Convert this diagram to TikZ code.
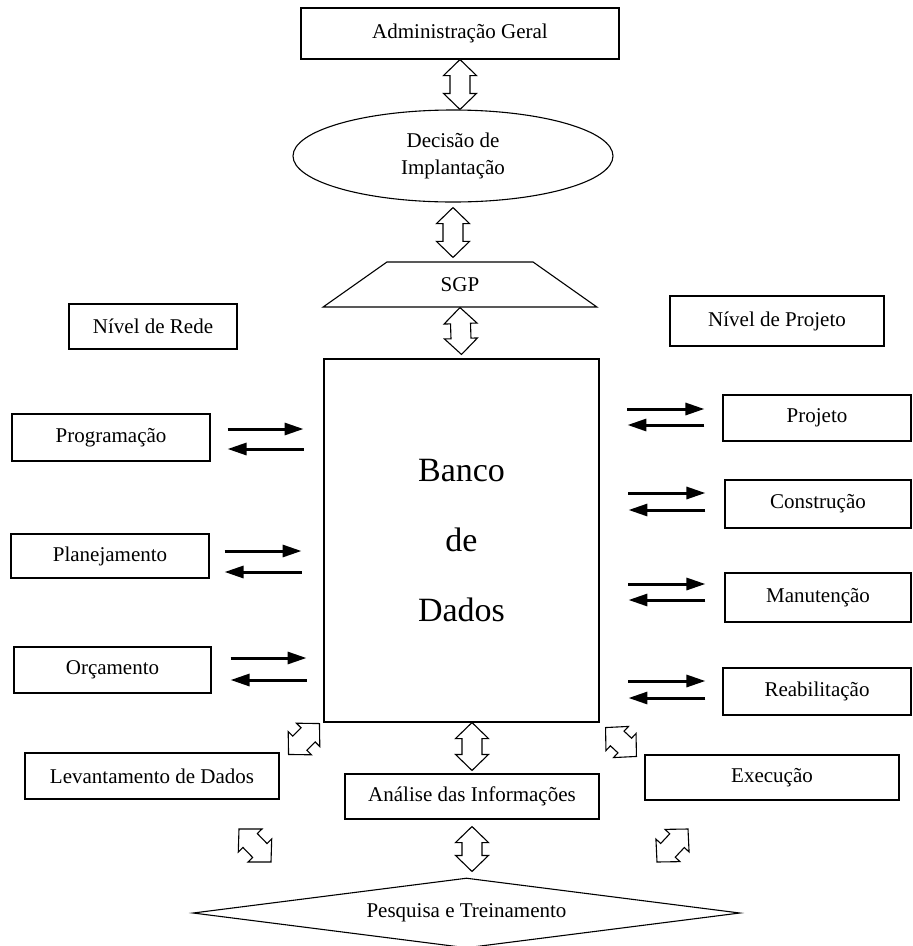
\documentclass[tikz,border=0pt]{standalone}
\usepackage{fontspec}
\setmainfont{Liberation Serif}
\usetikzlibrary{shapes.geometric,arrows.meta,calc}

% hollow double arrow from #1 to #2
\newcommand{\blockarrow}[2]{%
\coordinate (hd1) at ($(#1)!16pt!(#2)$);
\coordinate (hd2) at ($(#2)!16pt!(#1)$);
\draw[hollow] (#1) -- ($(hd1)!16.5pt!90:(#2)$) -- ($(hd1)!10pt!90:(#2)$)
	-- ($(hd2)!10pt!-90:(#1)$) -- ($(hd2)!16.5pt!-90:(#1)$) -- (#2)
	-- ($(hd2)!16.5pt!90:(#1)$) -- ($(hd2)!10pt!90:(#1)$)
	-- ($(hd1)!10pt!-90:(#2)$) -- ($(hd1)!16.5pt!-90:(#2)$) -- cycle;}

\begin{document}
\begin{tikzpicture}[
x=1pt,y=-1pt,
every node/.style={draw,line width=1.1pt,inner sep=0pt,font=\fontsize{21}{27}\selectfont},
flow/.style={line width=3pt,-{Triangle[length=19pt,width=12pt]}},
hollow/.style={line width=1.1pt,fill=white,line join=miter}
]
\useasboundingbox (0,0) rectangle (913,946);

% top column
\node[minimum width=318pt,minimum height=51pt] (admin) at (460,33.5) {Administração Geral};
\node[ellipse,minimum width=320pt,minimum height=92pt,align=center] (decisao) at (453,156) {Decisão de\\Implantação};
\node[trapezium,trapezium angle=40,trapezium stretches=true,minimum width=275pt,minimum height=45pt] (sgp) at (460,284.5) {SGP};
\node[minimum width=168pt,minimum height=45pt] (rede) at (153,326.5) {Nível de Rede};
\node[minimum width=214pt,minimum height=50pt] (nivproj) at (777,321) {Nível de Projeto};
\node[minimum width=275pt,minimum height=363pt,align=center,font=\fontsize{34}{70}\selectfont] (banco) at (461.5,540.5) {Banco\\de\\Dados};

% nivel de rede
\node[minimum width=198pt,minimum height=47pt] (prog) at (111,437.5) {Programação};
\node[minimum width=198pt,minimum height=44pt] (plan) at (110,556) {Planejamento};
\node[minimum width=197pt,minimum height=46pt] (orc) at (112.5,670) {Orçamento};

% nivel de projeto
\node[minimum width=188pt,minimum height=46pt] (proj) at (817,418) {Projeto};
\node[minimum width=186pt,minimum height=48pt] (constr) at (818,504) {Construção};
\node[minimum width=186pt,minimum height=49pt] (manut) at (818,597.5) {Manutenção};
\node[minimum width=188pt,minimum height=47pt] (reab) at (817,691.5) {Reabilitação};

% bottom
\node[minimum width=254pt,minimum height=46pt] (lev) at (152,776) {Levantamento de Dados};
\node[minimum width=254pt,minimum height=45pt] (analise) at (472,796.5) {Análise das Informações};
\node[minimum width=254pt,minimum height=45pt] (exec) at (772,777.5) {Execução};
\node[diamond,aspect=7.8,minimum width=547pt,minimum height=70pt] (pesq) at (466.5,913) {Pesquisa e Treinamento};

% ends of the hollow arrows
\coordinate (a1) at (admin.south);
\coordinate (b1) at (admin.south |- decisao.north);
\coordinate (a2) at ($(decisao.south)+(0,5)$);
\coordinate (b2) at ($(a2 |- sgp.north)+(0,-4)$);
\coordinate (a3) at (sgp.south);
\coordinate (b3) at ($(banco.north)+(0,-4)$);
\coordinate (a4) at (analise.north |- banco.south);
\coordinate (b4) at ($(analise.north)+(0,-3)$);
\coordinate (a5) at ($(analise.south)+(0,7)$);
\coordinate (b5) at ($(analise.south |- pesq.north)+(0,-6)$);
\coordinate (a6) at ($(lev.north east)+(9,2)$);
\coordinate (b6) at ($(banco.south west)+(-4,1)$);
\coordinate (a7) at ($(banco.south east)+(6,5)$);
\coordinate (b7) at ($(exec.north west)+(-8,2)$);
\coordinate (a8) at (239,829);
\coordinate (b8) at (271,862);
\coordinate (a9) at (688,829);
\coordinate (b9) at (657,862);
\foreach \s/\e in {a1/b1,a2/b2,a3/b3,a4/b4,a5/b5,a6/b6,a7/b7,a8/b8,a9/b9}
	\blockarrow{\s}{\e};

% arrows to and from the data bank
\draw[flow] ([xshift=17pt,yshift=8.5pt]prog.east) -- ([xshift=93pt,yshift=8.5pt]prog.east);
\draw[flow] ([xshift=93pt,yshift=-11.5pt]prog.east) -- ([xshift=17pt,yshift=-11.5pt]prog.east);
\draw[flow] ([xshift=15pt,yshift=5pt]plan.east) -- ([xshift=92pt,yshift=5pt]plan.east);
\draw[flow] ([xshift=92pt,yshift=-16pt]plan.east) -- ([xshift=15pt,yshift=-16pt]plan.east);
\draw[flow] ([xshift=19pt,yshift=12pt]orc.east) -- ([xshift=95pt,yshift=12pt]orc.east);
\draw[flow] ([xshift=95pt,yshift=-10pt]orc.east) -- ([xshift=19pt,yshift=-10pt]orc.east);

\draw[flow] ([xshift=-95pt,yshift=9pt]proj.west) -- ([xshift=-18pt,yshift=9pt]proj.west);
\draw[flow] ([xshift=-18pt,yshift=-7pt]proj.west) -- ([xshift=-95pt,yshift=-7pt]proj.west);
\draw[flow] ([xshift=-96pt,yshift=11pt]constr.west) -- ([xshift=-19pt,yshift=11pt]constr.west);
\draw[flow] ([xshift=-19pt,yshift=-6pt]constr.west) -- ([xshift=-96pt,yshift=-6pt]constr.west);
\draw[flow] ([xshift=-96pt,yshift=13.5pt]manut.west) -- ([xshift=-19pt,yshift=13.5pt]manut.west);
\draw[flow] ([xshift=-19pt,yshift=-2.5pt]manut.west) -- ([xshift=-96pt,yshift=-2.5pt]manut.west);
\draw[flow] ([xshift=-94pt,yshift=10.5pt]reab.west) -- ([xshift=-17pt,yshift=10.5pt]reab.west);
\draw[flow] ([xshift=-17pt,yshift=-6.5pt]reab.west) -- ([xshift=-94pt,yshift=-6.5pt]reab.west);
\end{tikzpicture}
\end{document}
